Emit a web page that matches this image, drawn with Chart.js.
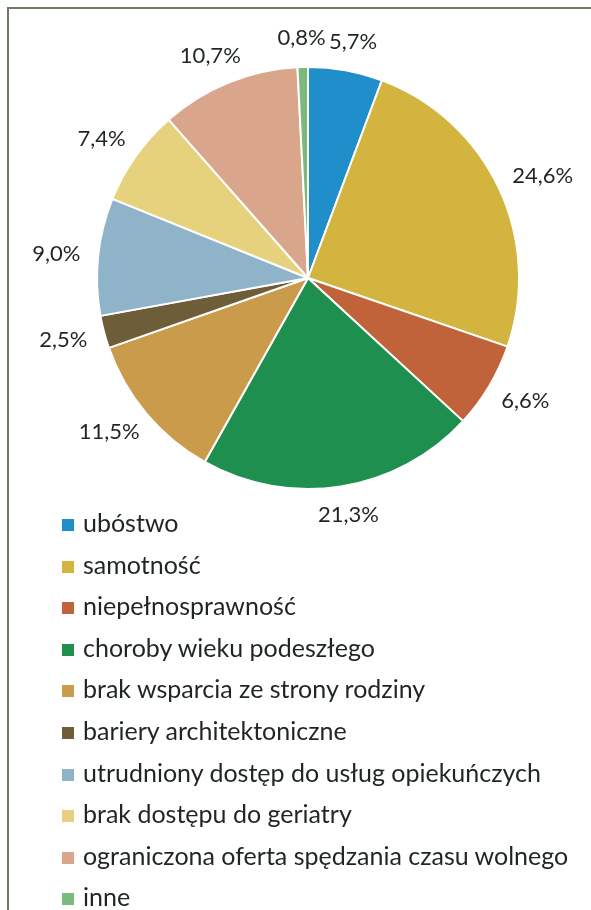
<!DOCTYPE html>
<html>
<head>
<meta charset="utf-8">
<script src="https://cdn.jsdelivr.net/npm/chart.js@4"></script>
<style>
    html, body { margin: 0; padding: 0; background: #fff; }
    body { width: 591px; height: 910px; position: relative; overflow: hidden; font-family: Lato, sans-serif; }
    .frame {
        position: absolute; left: 7px; top: 7px; width: 600px; height: 920px;
        border-left: 2px solid #6b7a66; border-top: 2px solid #6b7a66;
    }
    .chart-box { position: absolute; left: 0; top: 0; width: 591px; height: 540px; }
    #legend { position: absolute; left: 62px; top: 502px; margin: 0; padding: 0; list-style: none; }
    #legend li { height: 41.6px; line-height: 41.6px; font-size: 25px; color: #1f2525; white-space: nowrap; }
    #legend span { display: inline-block; width: 12px; height: 12px; margin-right: 9px; vertical-align: 1px; }
</style>
</head>
<body>
<div class="frame"></div>
<div class="chart-box"><canvas id="pieChart"></canvas></div>
<ul id="legend"></ul>
<script>
// kategorie i udziały (%)
const labels = [
    'ubóstwo',
    'samotność',
    'niepełnosprawność',
    'choroby wieku podeszłego',
    'brak wsparcia ze strony rodziny',
    'bariery architektoniczne',
    'utrudniony dostęp do usług opiekuńczych',
    'brak dostępu do geriatry',
    'ograniczona oferta spędzania czasu wolnego',
    'inne'
];
const values = [5.7, 24.6, 6.6, 21.3, 11.5, 2.5, 9.0, 7.4, 10.7, 0.8];
const colors = [
    '#1f8ecb',
    '#d3b43e',
    '#c1633a',
    '#1e8f4f',
    '#c99b4a',
    '#6d5d38',
    '#8fb3c9',
    '#e6d27c',
    '#d9a68b',
    '#7aba7c'
];

// etykiety procentowe na zewnątrz wycinków
const outsideLabels = {
    id: 'outsideLabels',
    afterDatasetsDraw(chart) {
        const c = chart.ctx;
        const meta = chart.getDatasetMeta(0);
        c.save();
        c.font = '22px Lato, sans-serif';
        c.fillStyle = '#1f2525';
        c.textAlign = 'center';
        c.textBaseline = 'middle';
        meta.data.forEach((arc, i) => {
            const p = arc.getProps(['x', 'y', 'startAngle', 'endAngle', 'outerRadius'], true);
            const a = (p.startAngle + p.endAngle) / 2;
            const text = values[i].toFixed(1).replace('.', ',') + '%';
            const w = c.measureText(text).width;
            const h = 22;
            const gap = 18;
            const cx = p.x + (p.outerRadius + gap) * Math.cos(a) + (w / 2) * Math.cos(a);
            const cy = p.y + (p.outerRadius + gap) * Math.sin(a) + (h / 2) * Math.sin(a);
            c.fillText(text, cx, cy);
        });
        c.restore();
    }
};

const ctx = document.getElementById('pieChart').getContext('2d');
new Chart(ctx, {
    type: 'pie',
    data: {
        labels: labels,
        datasets: [{
            data: values,
            backgroundColor: colors,
            borderColor: '#ffffff',
            borderWidth: 2
        }]
    },
    options: {
        responsive: true,
        maintainAspectRatio: false,
        animation: false,
        layout: {
            padding: { top: 66, right: 71, bottom: 50, left: 96 }
        },
        plugins: {
            legend: { display: false },
            tooltip: { enabled: false }
        }
    },
    plugins: [outsideLabels]
});

// legenda
const legend = document.getElementById('legend');
labels.forEach((name, i) => {
    const li = document.createElement('li');
    const box = document.createElement('span');
    box.style.background = colors[i];
    li.appendChild(box);
    li.appendChild(document.createTextNode(name));
    legend.appendChild(li);
});
</script>
</body>
</html>
